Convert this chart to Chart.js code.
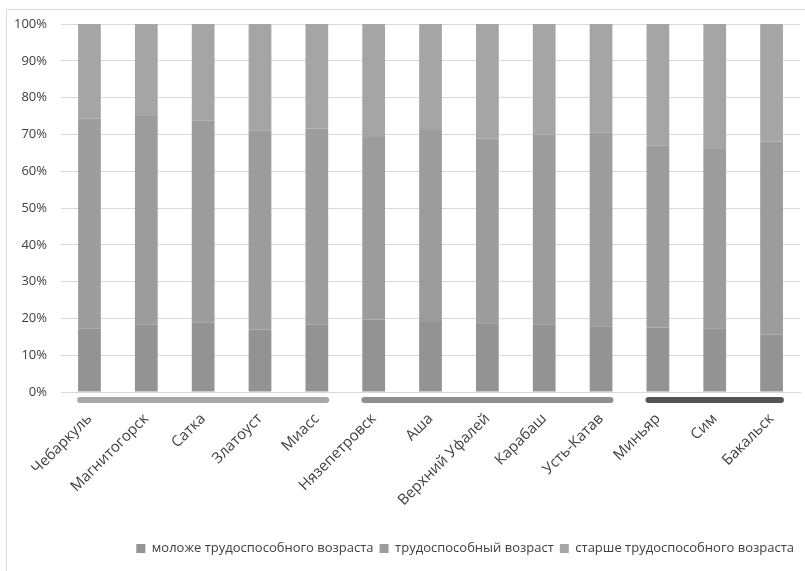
<!DOCTYPE html>
<html>
<head>
<meta charset="utf-8">
<script src="https://cdn.jsdelivr.net/npm/chart.js@4/dist/chart.umd.min.js"></script>
<style>
  body { margin: 0; background: #fff; }
  #wrap { position: relative; width: 805px; height: 571px; }
  #frame { position: absolute; left: 6px; top: 9px; right: -2px; bottom: -2px; border: 1px solid #d9d9d9; }
</style>
</head>
<body>
<div id="wrap">
  <div id="frame"></div>
  <canvas id="chart" width="805" height="571"></canvas>
</div>
<script>
// Categories (towns)
const towns = ["Чебаркуль", "Магнитогорск", "Сатка", "Златоуст", "Миасс", "Нязепетровск", "Аша",
  "Верхний Уфалей", "Карабаш", "Усть-Катав", "Миньяр", "Сим", "Бакальск"]

// Shares, %
const youngShare = [17.2, 18.3, 18.8, 17.0, 18.3, 19.7, 19.0, 18.7, 18.4, 17.9, 17.5, 17.3, 15.6]
const workingShare = [57.1, 56.7, 54.9, 54.1, 53.3, 49.6, 52.2, 50.2, 51.5, 52.7, 49.4, 48.7, 52.5]
const olderShare = [25.7, 25.0, 26.3, 28.9, 28.4, 30.7, 28.8, 31.1, 30.1, 29.4, 33.1, 34.0, 31.9]

const seriesNames = ["моложе трудоспособного возраста", "трудоспособный возраст", "старше трудоспособного возраста"]

// Town groups shown by the bars under the axis (first and last category index)
const groupStart = [0, 5, 10]
const groupEnd = [4, 9, 12]
const groupColors = ["#a8a8a8", "#8f8f8f", "#555555"]

const font = "'Open Sans', sans-serif"

// Draws the rounded group bars just below the x axis
const groupBars = {
  id: "groupBars",
  afterDatasetsDraw(chart) {
    const ctx = chart.ctx
    const meta = chart.getDatasetMeta(0)
    const y = chart.scales.x.top + 8
    ctx.save()
    ctx.lineWidth = 6
    ctx.lineCap = "round"
    groupStart.forEach((s, i) => {
      const a = meta.data[s]
      const b = meta.data[groupEnd[i]]
      ctx.strokeStyle = groupColors[i]
      ctx.beginPath()
      ctx.moveTo(a.x - a.width / 2 + 2, y)
      ctx.lineTo(b.x + b.width / 2 - 2, y)
      ctx.stroke()
    })
    ctx.restore()
  },
}

const ctx = document.getElementById("chart").getContext("2d")
new Chart(ctx, {
  type: "bar",
  data: {
    labels: towns,
    datasets: [
      { label: seriesNames[0], data: youngShare, backgroundColor: "#939393" },
      { label: seriesNames[1], data: workingShare, backgroundColor: "#9c9c9c" },
      { label: seriesNames[2], data: olderShare, backgroundColor: "#a5a5a5" },
    ],
  },
  options: {
    responsive: false,
    animation: false,
    layout: { padding: { left: 0, right: 5, top: 24, bottom: 6 } },
    datasets: { bar: { categoryPercentage: 1, barPercentage: 0.4 } },
    plugins: {
      tooltip: { enabled: false },
      legend: {
        position: "bottom",
        align: "end",
        labels: {
          boxWidth: 9,
          boxHeight: 9,
          padding: 6,
          color: "#404040",
          font: { family: font, size: 13 },
        },
      },
    },
    scales: {
      x: {
        stacked: true,
        grid: { display: false },
        border: { color: "#d9d9d9" },
        ticks: {
          minRotation: 45,
          maxRotation: 45,
          padding: 10,
          color: "#404040",
          font: { family: font, size: 15 },
        },
        afterFit(scale) { scale.height = 144 },
      },
      y: {
        stacked: true,
        min: 0,
        max: 100,
        grid: { color: "#d9d9d9", drawTicks: false },
        border: { display: false },
        ticks: {
          stepSize: 10,
          padding: 14,
          color: "#404040",
          font: { family: font, size: 13 },
          callback: (v) => v + "%",
        },
      },
    },
  },
  plugins: [groupBars],
})
</script>
</body>
</html>
